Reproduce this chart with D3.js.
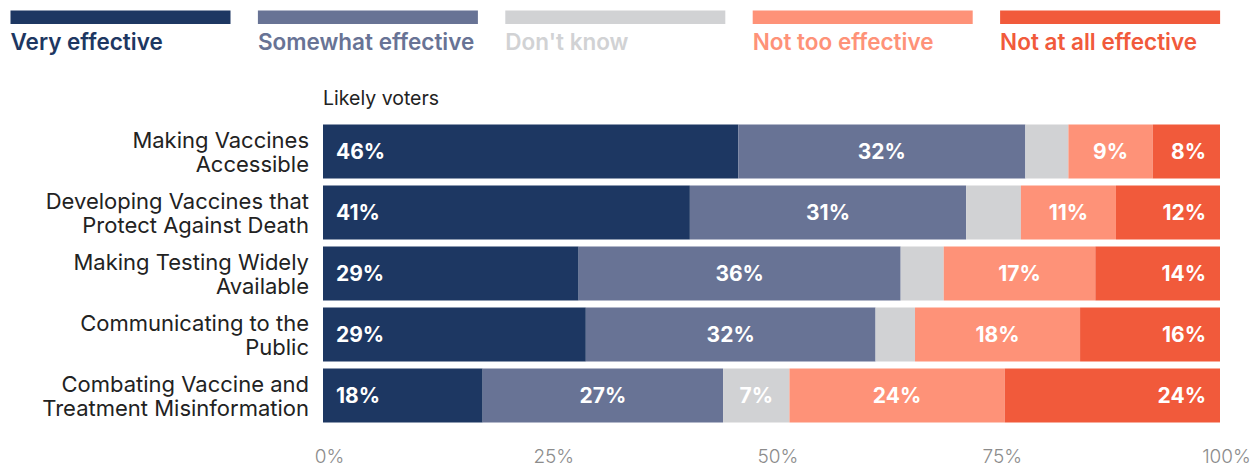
<!DOCTYPE html>
<html>
<head>
<meta charset="utf-8">
<script src="https://cdn.jsdelivr.net/npm/d3@7"></script>
<style>
  body { margin: 0; background: #fff; }
  svg { display: block; font-family: Inter, "Noto Sans", sans-serif; }
</style>
</head>
<body>
<div class="plot"></div>
<script>
var categories = [
  "Making Vaccines|Accessible",
  "Developing Vaccines that|Protect Against Death",
  "Making Testing Widely|Available",
  "Communicating to the|Public",
  "Combating Vaccine and|Treatment Misinformation"
];
var seriesNames = ["Very effective", "Somewhat effective", "Don't know", "Not too effective", "Not at all effective"];
var seriesColors = ["#1d3762", "#687395", "#d1d2d4", "#fe9278", "#f15a3b"];
// values, in percent
var veryEffective     = [46.3, 40.9, 28.5, 29.3, 17.8];
var somewhatEffective = [32.0, 30.8, 35.9, 32.3, 26.8];
var dontKnow          = [4.8, 6.1, 4.8, 4.4, 7.4];
var notTooEffective   = [9.4, 10.6, 16.9, 18.4, 24.0];
var notAtAllEffective = [7.5, 11.6, 13.9, 15.6, 24.0];
var xTicks = [0, 25, 50, 75, 100];
var subtitle = "Likely voters";

var W = 1258, H = 468;
var margin = {left: 323, right: 38, top: 124.5};

var rows = categories.map(function(c, i) {
  return {
    cat: c,
    "Very effective": veryEffective[i],
    "Somewhat effective": somewhatEffective[i],
    "Don't know": dontKnow[i],
    "Not too effective": notTooEffective[i],
    "Not at all effective": notAtAllEffective[i]
  };
});

var svg = d3.select(".plot").append("svg")
  .attr("width", W)
  .attr("height", H);

var x = d3.scaleLinear().domain([0, 100]).range([margin.left, W - margin.right]);
var y = d3.scaleBand().domain(categories).range([margin.top, margin.top + 61 * categories.length - 7])
  .paddingInner(7 / 61).paddingOuter(0);

// legend
var legW = 220, legStep = 247.4;
var legend = svg.append("g").attr("transform", "translate(10.5,0)");
seriesNames.forEach(function(s, i) {
  legend.append("rect")
    .attr("x", i * legStep).attr("y", 10.5)
    .attr("width", legW).attr("height", 13.5)
    .style("fill", seriesColors[i]);
  legend.append("text")
    .attr("x", i * legStep).attr("y", 50)
    .style("font-size", "22.5px")
    .style("font-weight", 600)
    .style("fill", seriesColors[i])
    .text(s);
});

svg.append("text")
  .attr("x", margin.left).attr("y", 104.5)
  .style("font-size", "19.5px")
  .style("fill", "#222")
  .text(subtitle);

var stack = d3.stack().keys(seriesNames)(rows);

var layer = svg.selectAll("g.layer")
  .data(stack)
  .enter()
  .append("g")
  .attr("class", "layer")
  .style("fill", function(d, i) { return seriesColors[i]; });

layer.selectAll("rect")
  .data(function(d) { return d; })
  .enter()
  .append("rect")
  .attr("x", function(d) { return x(d[0]); })
  .attr("y", function(d) { return y(d.data.cat); })
  .attr("width", function(d) { return x(d[1]) - x(d[0]); })
  .attr("height", y.bandwidth());

// value labels, small slices get none
layer.each(function(s, si) {
  var last = seriesNames.length - 1;
  d3.select(this).selectAll("text")
    .data(s.filter(function(d) { return d[1] - d[0] >= 6.5; }))
    .enter()
    .append("text")
    .attr("x", function(d) {
      if (si === 0) return x(d[0]) + 13;
      if (si === last) return x(d[1]) - 14;
      return (x(d[0]) + x(d[1])) / 2;
    })
    .attr("y", function(d) { return y(d.data.cat) + y.bandwidth() / 2; })
    .attr("dy", "0.36em")
    .style("text-anchor", si === 0 ? "start" : (si === last ? "end" : "middle"))
    .style("font-size", "21px")
    .style("font-weight", 700)
    .style("fill", "#fff")
    .text(function(d) { return Math.round(d[1] - d[0]) + "%"; });
});

// category labels (two lines each)
var catLabels = svg.selectAll("text.cat")
  .data(categories)
  .enter()
  .append("text")
  .attr("class", "cat")
  .attr("x", 309)
  .attr("y", function(d) { return y(d) + y.bandwidth() / 2 - 3.5; })
  .style("text-anchor", "end")
  .style("font-size", "22px")
  .style("fill", "#222");
catLabels.each(function(d) {
  var t = d3.select(this);
  d.split("|").forEach(function(p, i) {
    t.append("tspan").attr("x", 309).attr("dy", i === 0 ? 0 : 24).text(p);
  });
});

// x axis
var xAxis = svg.append("g")
  .attr("transform", "translate(6,463)")
  .call(d3.axisBottom(x).tickValues(xTicks).tickSize(0).tickPadding(0).tickFormat(function(d) { return d + "%"; }));
xAxis.select(".domain").remove();
xAxis.selectAll("text")
  .attr("dy", 0)
  .style("font-family", "Inter, sans-serif")
  .style("font-size", "19px")
  .style("font-weight", 300)
  .style("fill", "#8c8c8c");
</script>
</body>
</html>
